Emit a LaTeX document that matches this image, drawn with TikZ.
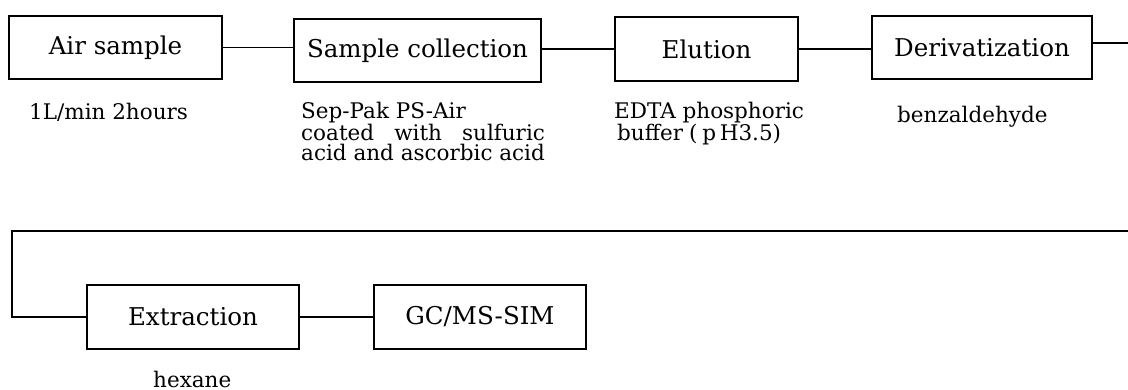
\documentclass[tikz,border=0pt]{standalone}
\usepackage{fontspec}
\setmainfont{DejaVu Serif}
\newlength\jwidth
\tikzset{
  stepbox/.style={draw, line width=1.8pt, inner sep=0pt, font=\fontsize{24.5}{28}\selectfont},
  link/.style={line width=1.8pt},
  note/.style={inner sep=0pt, anchor=west, align=left, font=\fontsize{21.5}{20}\selectfont}
}
\begin{document}
\begin{tikzpicture}[x=1pt, y=-1pt]
  \useasboundingbox (0,0) rectangle (1128,390);

  % upper row of steps
  \node[stepbox, minimum width=213pt, minimum height=63pt] (air)  at (115.5,47.5) {Air sample};
  \node[stepbox, minimum width=247pt, minimum height=63pt] (coll) at (417.5,50.5) {Sample collection};
  \node[stepbox, minimum width=183pt, minimum height=64pt] (elu)  at (706.5,49)   {Elution};
  \node[stepbox, minimum width=220pt, minimum height=63pt] (der)  at (982,47.5)   {Derivatization};

  % lower row of steps
  \node[stepbox, minimum width=212pt, minimum height=64pt] (ext) at (193,317) {Extraction};
  \node[stepbox, minimum width=212pt, minimum height=64pt] (gc)  at (480,317) {GC/MS-SIM};

  % conditions under each step
  \node[note] (n1) at (29,112) {1L/min 2hours};
  \node[note, anchor=north west] (n2) at (301,102) {%
    Sep-Pak PS-Air\\
    \settowidth{\jwidth}{acid and ascorbic acid}%
    \makebox[\jwidth][s]{coated\hfill with\hfill sulfuric}\\
    acid and ascorbic acid};
  \node[note, anchor=north west] (n3) at (614,102) {EDTA phosphoric\\
    \hspace{3pt}buffer\hspace{6pt}(\hspace{5pt}p\,H3.5)};
  \node[note] (n4) at (897,117) {benzaldehyde};
  \node[note] (n5) at (153,379) {hexane};

  % flow connectors
  \coordinate (r1) at (1128,43);
  \coordinate (tr) at (1128,231);
  \coordinate (tl) at (12,231);
  \coordinate (bl) at (12,317);
  \draw[link] (air.east) -- (air.east -| coll.west);
  \draw[link] (elu.west) -- (elu.west -| coll.east);
  \draw[link] (elu.east) -- (elu.east -| der.west);
  \draw[link] (der.east |- r1) -- (r1);
  \draw[link] (tr) -- (tl) -- (bl) -- (ext.west);
  \draw[link] (ext.east) -- (gc.west);
\end{tikzpicture}
\end{document}
